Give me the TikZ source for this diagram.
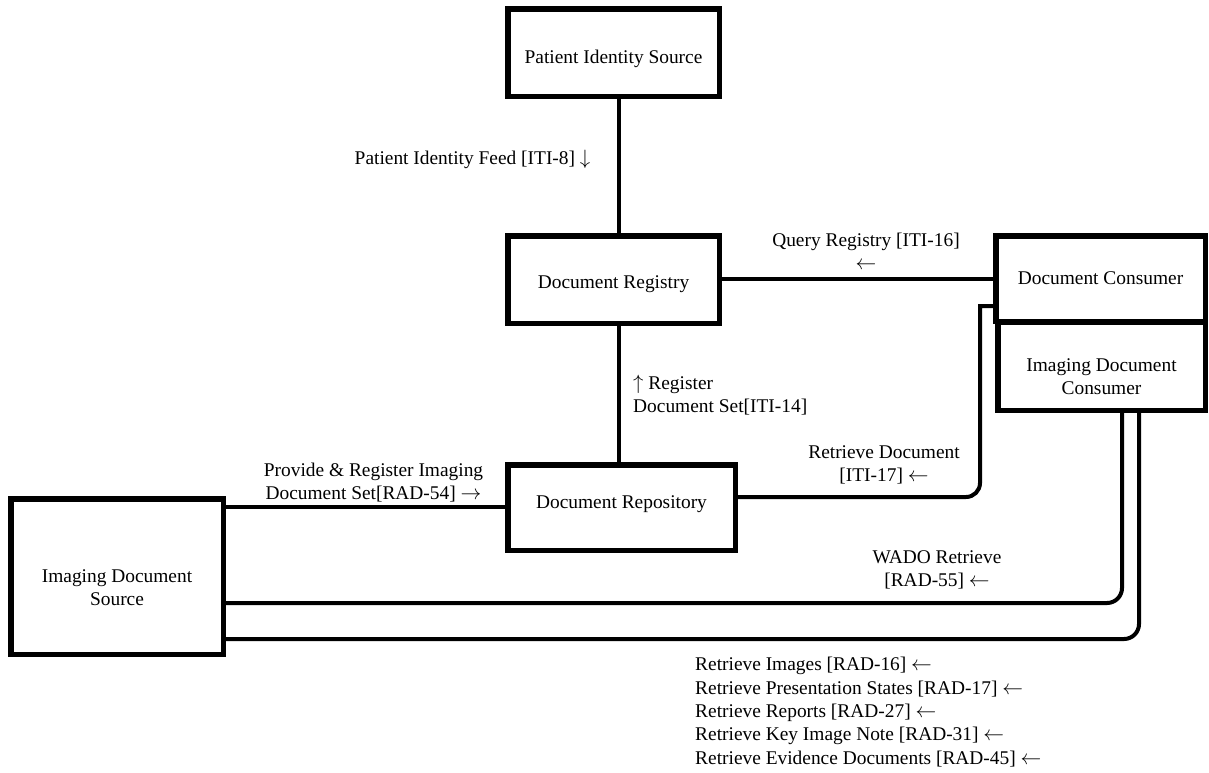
\documentclass[tikz,border=0pt]{standalone}
\usepackage{fontspec}
\setmainfont{Liberation Serif}
\newcommand{\la}{\ensuremath{\leftarrow}}
\newcommand{\ra}{\ensuremath{\rightarrow}}
\newcommand{\ua}{\ensuremath{\uparrow}}
\newcommand{\da}{\ensuremath{\downarrow}}
\begin{document}
\begin{tikzpicture}[x=1pt,y=-1pt,
  box/.style={draw, line width=5.5pt, inner sep=0pt},
  conn/.style={line width=4pt},
  txt/.style={font=\fontsize{19.4}{23}\selectfont, inner sep=0pt, align=center},
  txtl/.style={font=\fontsize{19.4}{23.4}\selectfont, inner sep=0pt, align=left}]
\useasboundingbox (0,0) rectangle (1209,772);
% boxes
\node[box, minimum width=211.5pt, minimum height=87.5pt,
  label={[txt, name=pisT, yshift=-6.5pt]center:Patient Identity Source}] (pis) at (613.5,52.5) {};
\node[box, minimum width=211.5pt, minimum height=87.5pt,
  label={[txt, name=regT, yshift=-4.5pt]center:Document Registry}] (reg) at (613.5,279.5) {};
\node[box, minimum width=227.5pt, minimum height=85.5pt,
  label={[txt, name=repT, yshift=3.5pt]center:Document Repository}] (rep) at (621.5,507.5) {};
\node[box, minimum width=209.5pt, minimum height=85.5pt,
  label={[txt, name=dcT]center:Document Consumer}] (dc) at (1100.5,278.5) {};
\node[box, minimum width=207.5pt, minimum height=88.5pt,
  label={[txt, name=idcT, yshift=-11pt]center:Imaging Document\\Consumer}] (idc) at (1101.5,366) {};
\node[box, minimum width=212.5pt, minimum height=155.5pt,
  label={[txt, name=idsT, yshift=-11pt]center:Imaging Document\\Source}] (ids) at (117,576.5) {};
% helper coordinates
\coordinate (xA) at (619,0);
\coordinate (y279) at (0,279);
\coordinate (y507) at (0,507);
\coordinate (y497) at (0,497);
\coordinate (y306) at (0,306);
\coordinate (y603) at (0,603);
\coordinate (y639) at (0,639);
\coordinate (x1122) at (1122,0);
\coordinate (x1139) at (1139,0);
% connectors
\draw[conn] (pis.south -| xA) -- (reg.north -| xA);
\draw[conn] (reg.east |- y279) -- (dc.west |- y279);
\draw[conn] (reg.south -| xA) -- (rep.north -| xA);
\draw[conn] (ids.east |- y507) -- (rep.west |- y507);
\draw[conn] (rep.east |- y497) -- (966,497) arc[start angle=-90, end angle=0, radius=14pt]
  -- (980,306) -- (dc.west |- y306);
\draw[conn, rounded corners=15pt] (idc.south -| x1122) -- (1122,603) -- (ids.east |- y603);
\draw[conn, rounded corners=15pt] (idc.south -| x1139) -- (1139,639) -- (ids.east |- y639);
% labels
\node[txt] (pifL) at (472.5,159) {Patient Identity Feed [ITI-8] \da};
\node[txt] (qrL) at (866,251) {Query Registry [ITI-16]\\\la};
\node[txtl, anchor=west] (rdsL) at (633,395) {\ua{} Register\\Document Set[ITI-14]};
\node[txt] (retL) at (884,465) {Retrieve Document\\{}[ITI-17] \la};
\node[txt] (provL) at (373.5,482.5) {Provide \& Register Imaging\\Document Set[RAD-54] \ra};
\node[txt] (wadoL) at (937,569.5) {WADO Retrieve\\{}[RAD-55] \la};
\node[txtl, anchor=west] (listL) at (695,712) {Retrieve Images [RAD-16] \la\\Retrieve Presentation States [RAD-17] \la\\Retrieve Reports [RAD-27] \la\\Retrieve Key Image Note [RAD-31] \la\\Retrieve Evidence Documents [RAD-45] \la};
\end{tikzpicture}
\end{document}
